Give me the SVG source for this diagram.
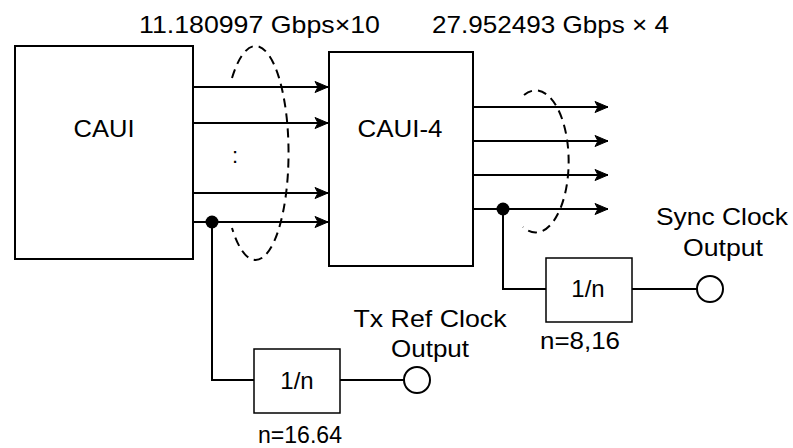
<svg xmlns="http://www.w3.org/2000/svg" width="793" height="448" viewBox="0 0 793 448">
<defs>
<style>
.box{fill:#fff;stroke:#000;stroke-width:2}
.sbox{fill:#fff;stroke:#000;stroke-width:1.5}
.ln{fill:none;stroke:#000;stroke-width:2}
.dash{fill:none;stroke:#000;stroke-width:2;stroke-dasharray:9,6}
.t{font-family:"Liberation Sans",Arial,sans-serif;font-size:24px;fill:#000}
.m{text-anchor:middle}
</style>
<marker id="arr" markerUnits="userSpaceOnUse" markerWidth="16" markerHeight="14" viewBox="0 0 16 14" refX="14" refY="7" orient="auto">
<path d="M1,1.5 L14,7 L1,12.5 L4,7 Z" fill="#000" stroke="#000" stroke-width="1" stroke-linejoin="miter"/>
</marker>
</defs>
<rect width="793" height="448" fill="#fff"/>
<text class="t" x="139" y="33" textLength="241" lengthAdjust="spacingAndGlyphs">11.180997 Gbps×10</text>
<text class="t" x="432" y="33" textLength="237" lengthAdjust="spacingAndGlyphs">27.952493 Gbps × 4</text>
<g id="connectors">
<line class="ln" x1="193" y1="87" x2="328" y2="87" marker-end="url(#arr)"/>
<line class="ln" x1="193" y1="123" x2="328" y2="123" marker-end="url(#arr)"/>
<line class="ln" x1="193" y1="193" x2="328" y2="193" marker-end="url(#arr)"/>
<line class="ln" x1="193" y1="222" x2="328" y2="222" marker-end="url(#arr)"/>
<line class="ln" x1="473" y1="107" x2="608" y2="107" marker-end="url(#arr)"/>
<line class="ln" x1="473" y1="141" x2="608" y2="141" marker-end="url(#arr)"/>
<line class="ln" x1="473" y1="175" x2="608" y2="175" marker-end="url(#arr)"/>
<line class="ln" x1="473" y1="209" x2="608" y2="209" marker-end="url(#arr)"/>
<path class="dash" d="M232,78 A33,107 0 1 1 232,228"/>
<path class="dash" d="M524,95 A33,71 0 1 1 523,227"/>
<circle cx="212" cy="222" r="6.5" fill="#000"/>
<circle cx="503" cy="209" r="6.5" fill="#000"/>
<polyline class="ln" points="212,222 212,380 254,380"/>
<line class="ln" x1="340" y1="380" x2="404" y2="380"/>
<polyline class="ln" points="503,209 503,289 546,289"/>
<line class="ln" x1="632" y1="289" x2="697" y2="289"/>
</g>
<g id="caui">
<rect class="box" x="15" y="46" width="178" height="213"/>
<text class="t m" x="104" y="137" textLength="61" lengthAdjust="spacingAndGlyphs">CAUI</text>
<text class="t m" x="235" y="163" style="font-size:22px">:</text>
</g>
<g id="caui4">
<rect class="box" x="329" y="52" width="144" height="214"/>
<text class="t m" x="400" y="137" textLength="85" lengthAdjust="spacingAndGlyphs">CAUI-4</text>
</g>
<g id="div-tx">
<rect class="sbox" x="254" y="349" width="86" height="64"/>
<text class="t m" x="297" y="389">1/n</text>
<text class="t m" x="300" y="443" textLength="84" lengthAdjust="spacingAndGlyphs">n=16.64</text>
</g>
<g id="out-tx">
<circle cx="417" cy="380" r="13" fill="#fff" stroke="#000" stroke-width="2"/>
<text class="t m" x="430" y="327" textLength="153" lengthAdjust="spacingAndGlyphs">Tx Ref Clock</text>
<text class="t m" x="430" y="357" textLength="78" lengthAdjust="spacingAndGlyphs">Output</text>
</g>
<g id="div-sync">
<rect class="sbox" x="546" y="258" width="86" height="64"/>
<text class="t m" x="588" y="297">1/n</text>
<text class="t m" x="580" y="349" textLength="80" lengthAdjust="spacingAndGlyphs">n=8,16</text>
</g>
<g id="out-sync">
<circle cx="710" cy="289" r="13" fill="#fff" stroke="#000" stroke-width="2"/>
<text class="t m" x="722" y="225" textLength="132" lengthAdjust="spacingAndGlyphs">Sync Clock</text>
<text class="t m" x="723" y="256" textLength="80" lengthAdjust="spacingAndGlyphs">Output</text>
</g>
</svg>
